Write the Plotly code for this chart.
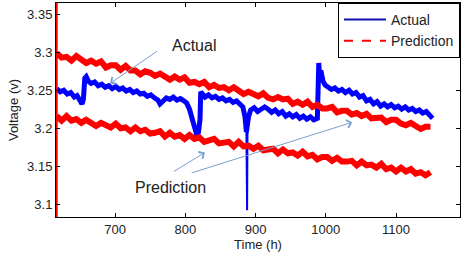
import plotly.graph_objects as go

# ---- data ----
actual_t = [617, 622, 627, 632, 637, 642, 646, 650, 653, 655, 657, 659, 662, 666, 671, 676, 681, 686, 691, 696,
            701, 706, 711, 716, 721, 726, 731, 736, 741, 746, 751, 756, 761, 764, 768, 773, 778, 783, 788, 793,
            798, 802, 806, 809, 812, 815, 817, 819, 821, 822, 824, 828, 833, 838, 843, 848, 853, 858, 863, 868,
            873, 878, 882, 885, 887, 890, 893, 898, 903, 908, 913, 918, 923, 928, 933, 938, 943, 948,
            953, 958, 963, 968, 973, 978, 983, 988, 990, 991, 993, 996, 999, 1003, 1008, 1013, 1018, 1023, 1028,
            1033, 1038, 1043, 1048, 1053, 1058, 1063, 1068, 1073, 1078, 1083, 1088, 1093, 1098, 1103, 1108, 1113,
            1118, 1123, 1128, 1133, 1138, 1143, 1148, 1152]
actual_v = [3.252, 3.248, 3.250, 3.245, 3.247, 3.241, 3.243, 3.236, 3.232, 3.238, 3.266, 3.268, 3.262, 3.259, 3.261,
            3.256, 3.258, 3.254, 3.256, 3.252, 3.255, 3.251, 3.253, 3.249, 3.251, 3.247, 3.249, 3.245, 3.246, 3.242,
            3.244, 3.240, 3.237, 3.232, 3.236, 3.240, 3.238, 3.241, 3.237, 3.239, 3.236, 3.233, 3.225, 3.214, 3.202,
            3.192, 3.189, 3.196, 3.212, 3.248, 3.245, 3.241, 3.244, 3.240, 3.242, 3.238, 3.240, 3.236, 3.238, 3.234,
            3.236, 3.232, 3.228, 3.215, 3.195, 3.215, 3.224, 3.227, 3.222, 3.225, 3.228, 3.225, 3.221,
            3.224, 3.219, 3.222, 3.216, 3.219, 3.215, 3.218, 3.213, 3.216, 3.212, 3.215, 3.211, 3.213, 3.286, 3.270,
            3.276, 3.262, 3.257, 3.255, 3.251, 3.253, 3.249, 3.251, 3.247, 3.250, 3.245, 3.247, 3.241, 3.243, 3.236,
            3.238, 3.232, 3.235, 3.229, 3.232, 3.228, 3.231, 3.227, 3.229, 3.225, 3.228, 3.224, 3.226, 3.222, 3.224,
            3.220, 3.222, 3.216, 3.213]
# narrow downward spike in the actual series near 888 h
spike_t = [887, 888, 888.5, 890]
spike_v = [3.195, 3.092, 3.190, 3.215]

pred_t = [617, 624, 631, 638, 645, 652, 659, 666, 673, 680, 687, 694, 701, 708, 715, 722, 729, 736, 743, 750,
          757, 764, 771, 778, 785, 792, 799, 806, 813, 820, 827, 834, 841, 848, 855, 862, 869, 876, 883, 890,
          897, 904, 911, 918, 925, 932, 939, 946, 953, 960, 967, 974, 981, 988, 995, 1002, 1009, 1016, 1023, 1030,
          1037, 1044, 1051, 1058, 1065, 1072, 1079, 1086, 1093, 1100, 1107, 1114, 1121, 1128, 1135, 1142, 1149]
pred_upper = [3.299, 3.293, 3.294, 3.289, 3.295, 3.290, 3.286, 3.289, 3.285, 3.288, 3.280, 3.283, 3.283, 3.277,
              3.282, 3.276, 3.276, 3.271, 3.275, 3.273, 3.269, 3.272, 3.267, 3.264, 3.268, 3.264, 3.267, 3.260,
              3.261, 3.258, 3.261, 3.254, 3.257, 3.253, 3.254, 3.250, 3.254, 3.249, 3.245, 3.248, 3.246, 3.242,
              3.246, 3.240, 3.238, 3.241, 3.238, 3.239, 3.232, 3.235, 3.231, 3.235, 3.228, 3.231, 3.226, 3.226,
              3.228, 3.221, 3.223, 3.223, 3.218, 3.220, 3.216, 3.219, 3.213, 3.214, 3.214, 3.208, 3.211, 3.211,
              3.206, 3.204, 3.207, 3.203, 3.199, 3.202, 3.202]
pred_lower = [3.216, 3.210, 3.216, 3.210, 3.212, 3.207, 3.211, 3.207, 3.203, 3.207, 3.205, 3.201, 3.206, 3.200,
              3.201, 3.196, 3.201, 3.196, 3.198, 3.193, 3.194, 3.196, 3.189, 3.194, 3.189, 3.191, 3.186, 3.191,
              3.186, 3.188, 3.182, 3.185, 3.186, 3.180, 3.181, 3.182, 3.176, 3.182, 3.176, 3.177, 3.173, 3.177,
              3.171, 3.172, 3.173, 3.167, 3.172, 3.167, 3.168, 3.164, 3.169, 3.163, 3.165, 3.159, 3.162, 3.162,
              3.157, 3.161, 3.156, 3.156, 3.157, 3.151, 3.156, 3.151, 3.152, 3.148, 3.153, 3.146, 3.148, 3.143,
              3.148, 3.143, 3.146, 3.140, 3.142, 3.138, 3.142]
pred_edge_t = [617, 617]
pred_edge_v = [3.05, 3.40]

x_ticks = [700, 800, 900, 1000, 1100]
y_ticks = [3.1, 3.15, 3.2, 3.25, 3.3, 3.35]
y_tick_labels = ["3.1", "3.15", "3.2", "3.25", "3.3", "3.35"]

BLUE = "#0000ff"
RED = "#ff0000"
ARROW = "#7b9fcf"
FONT = "Liberation Sans, Arial, sans-serif"

fig = go.Figure()
fig.add_trace(go.Scatter(x=actual_t, y=actual_v, mode="lines", line=dict(color=BLUE, width=5),
                         showlegend=False, hoverinfo="skip"))
fig.add_trace(go.Scatter(x=spike_t, y=spike_v, mode="lines", line=dict(color=BLUE, width=2),
                         showlegend=False, hoverinfo="skip"))
fig.add_trace(go.Scatter(x=pred_t, y=pred_upper, mode="lines", line=dict(color=RED, width=6),
                         showlegend=False, hoverinfo="skip"))
fig.add_trace(go.Scatter(x=pred_t, y=pred_lower, mode="lines", line=dict(color=RED, width=6),
                         showlegend=False, hoverinfo="skip"))
fig.add_trace(go.Scatter(x=pred_edge_t, y=pred_edge_v, mode="lines", line=dict(color=RED, width=2),
                         showlegend=False, hoverinfo="skip"))
# legend entries
fig.add_trace(go.Scatter(x=[None], y=[None], mode="lines", name="Actual", line=dict(color="#1010b0", width=2)))
fig.add_trace(go.Scatter(x=[None], y=[None], mode="lines", name="Prediction",
                         line=dict(color=RED, width=2, dash="dash")))

anns = [
    dict(x=812, y=3.3094, text="Actual", showarrow=False, font=dict(size=16, color="#222")),
    dict(x=779, y=3.122, text="Prediction", showarrow=False, font=dict(size=16, color="#222")),
    dict(x=693, y=3.259, ax=762, ay=3.3028),
    dict(x=828, y=3.168, ax=781.5, ay=3.1418),
    dict(x=1037.6, y=3.2078, ax=807, ay=3.1405),
]
for a in anns:
    if "ax" in a:
        a.update(text="", showarrow=True, axref="x", ayref="y", xref="x", yref="y",
                 arrowhead=4, arrowsize=1.6, arrowwidth=1, arrowcolor=ARROW, standoff=0)
    else:
        a.update(xref="x", yref="y", font=dict(family=FONT, size=a["font"]["size"], color="#222"))
    fig.add_annotation(**a)

axis_common = dict(showline=True, linecolor="black", linewidth=1, mirror="allticks", ticks="inside",
                   ticklen=4, tickcolor="black", showgrid=False, zeroline=False,
                   tickfont=dict(family=FONT, size=13, color="#222"))
fig.update_xaxes(range=[616, 1191], tickvals=x_ticks, ticktext=[str(v) for v in x_ticks],
                 title=dict(text="Time (h)", font=dict(family=FONT, size=13, color="#222"), standoff=3),
                 **axis_common)
fig.update_yaxes(range=[3.083, 3.365], tickvals=y_ticks, ticktext=y_tick_labels,
                 title=dict(text="Voltage (v)", font=dict(family=FONT, size=13, color="#222"), standoff=5),
                 **axis_common)

fig.update_layout(
    width=465, height=254, margin=dict(l=56, r=5, t=3, b=37),
    paper_bgcolor="white", plot_bgcolor="white",
    legend=dict(x=1, y=1, xanchor="right", yanchor="top", bgcolor="white", bordercolor="black",
                borderwidth=1, font=dict(family=FONT, size=14, color="#222"),
                tracegroupgap=0, itemwidth=42),
    font=dict(family=FONT),
)
fig.write_html("out.html")
